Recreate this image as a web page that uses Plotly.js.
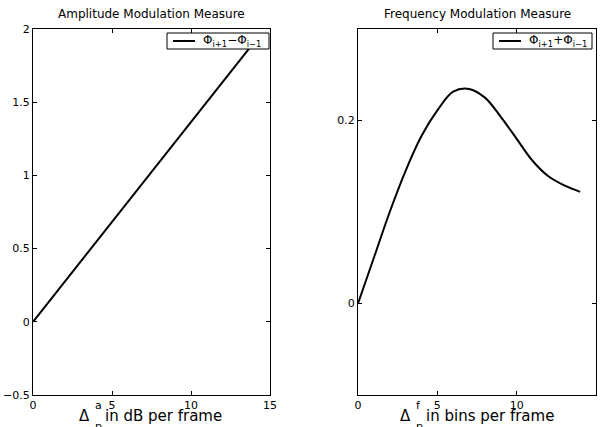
<!DOCTYPE html>
<html>
<head>
<meta charset="utf-8">
<script src="https://cdn.plot.ly/plotly-3.0.1.min.js"></script>
<style>html,body{margin:0;padding:0;background:#fff;}#chart{width:602px;height:427px;}</style>
</head>
<body>
<div id="chart"></div>
<script>
// Data
const amX = [0, 14];
const amY = [0, 1.91];
const fmX = [0, 1, 2, 3, 4, 5, 6, 7, 8, 9, 10, 11, 12, 13, 14];
const fmY = [0, 0.05, 0.1, 0.145, 0.183, 0.211, 0.2315, 0.2345, 0.225, 0.204, 0.18, 0.156, 0.139, 0.129, 0.122];
const amTicks = [-0.5, 0, 0.5, 1, 1.5, 2];
const fmTicks = [0, 0.2];
const xTicks = [0, 5, 10, 15];
const titles = ["Amplitude Modulation Measure", "Frequency Modulation Measure"];
const legendNames = ["Φ<sub>i+1</sub>−Φ<sub>i−1</sub>", "Φ<sub>i+1</sub>+Φ<sub>i−1</sub>"];
const xLabelSup = ["a", "f"];
const xLabelRest = ["in dB per frame", "in bins per frame"];

const W = 602, H = 427, TOP = 29, BOT = 395;
const px = v => v / W;
const py = v => (BOT - v) / (BOT - TOP);
const FONT = "DejaVu Sans, Arial, sans-serif";

const axisCommon = {
  showline: true, linecolor: "#000", linewidth: 1, mirror: "ticks",
  ticks: "inside", ticklen: 4, tickcolor: "#000", tickwidth: 1,
  showgrid: false, zeroline: false,
  tickfont: {family: FONT, size: 11, color: "#000"}
};

const traces = [
  {x: amX, y: amY, type: "scatter", mode: "lines", name: legendNames[0],
   line: {color: "#000", width: 2}, xaxis: "x", yaxis: "y"},
  {x: fmX, y: fmY, type: "scatter", mode: "lines", name: legendNames[1],
   line: {color: "#000", width: 2, shape: "spline", smoothing: 1}, xaxis: "x2", yaxis: "y2"}
];

const annotations = [];
const shapes = [];
const centers = [(33 + 270) / 2, (358 + 596) / 2];
titles.forEach((t, i) => annotations.push({
  xref: "paper", yref: "paper", x: px(centers[i]), y: py(14), text: t, showarrow: false,
  xanchor: "center", yanchor: "middle", font: {family: FONT, size: 12, color: "#000"}
}));
const deltaX = [92, 413];
[0, 1].forEach(i => {
  annotations.push({xref: "paper", yref: "paper", x: px(deltaX[i]), y: py(416), text: "Δ", showarrow: false,
    xanchor: "right", yanchor: "middle", font: {family: FONT, size: 15, color: "#000"}});
  annotations.push({xref: "paper", yref: "paper", x: px(deltaX[i] + 1), y: py(405), text: xLabelSup[i], showarrow: false,
    xanchor: "left", yanchor: "middle", font: {family: FONT, size: 11, color: "#000"}});
  annotations.push({xref: "paper", yref: "paper", x: px(deltaX[i] + 1), y: py(426), text: "p", showarrow: false,
    xanchor: "left", yanchor: "middle", font: {family: FONT, size: 11, color: "#000"}});
  annotations.push({xref: "paper", yref: "paper", x: px(deltaX[i] + 11), y: py(416), text: xLabelRest[i], showarrow: false,
    xanchor: "left", yanchor: "middle", font: {family: FONT, size: 15, color: "#000"}});
});

// legend boxes (key line + label), drawn as layout items
const legBox = [[167, 269], [493, 592]];
legBox.forEach((b, i) => {
  shapes.push({type: "rect", xref: "paper", yref: "paper", x0: px(b[0]), x1: px(b[1]), y0: py(33), y1: py(49),
    line: {color: "#000", width: 1}, fillcolor: "#fff", layer: "above"});
  shapes.push({type: "line", xref: "paper", yref: "paper", x0: px(b[0] + 6), x1: px(b[0] + 28), y0: py(41), y1: py(41),
    line: {color: "#000", width: 2}, layer: "above"});
  annotations.push({xref: "paper", yref: "paper", x: px(b[0] + 34), y: py(41), text: legendNames[i], showarrow: false,
    xanchor: "left", yanchor: "middle", font: {family: FONT, size: 12, color: "#000"}});
});

const layout = {
  width: W, height: H,
  margin: {l: 0, r: 0, t: TOP, b: H - BOT, pad: 0},
  paper_bgcolor: "#fff", plot_bgcolor: "#fff",
  showlegend: false,
  xaxis: Object.assign({}, axisCommon, {domain: [px(33), px(270)], range: [0, 15], tickvals: xTicks, anchor: "y"}),
  yaxis: Object.assign({}, axisCommon, {domain: [0, 1], range: [-0.5, 2], tickvals: amTicks, anchor: "x"}),
  xaxis2: Object.assign({}, axisCommon, {domain: [px(358), px(596)], range: [0, 15], tickvals: xTicks, anchor: "y2"}),
  yaxis2: Object.assign({}, axisCommon, {domain: [0, 1], range: [-0.1, 0.3], tickvals: fmTicks, anchor: "x2"}),
  shapes: shapes,
  annotations: annotations
};

Plotly.newPlot("chart", traces, layout, {displayModeBar: false, staticPlot: true});
</script>
</body>
</html>
